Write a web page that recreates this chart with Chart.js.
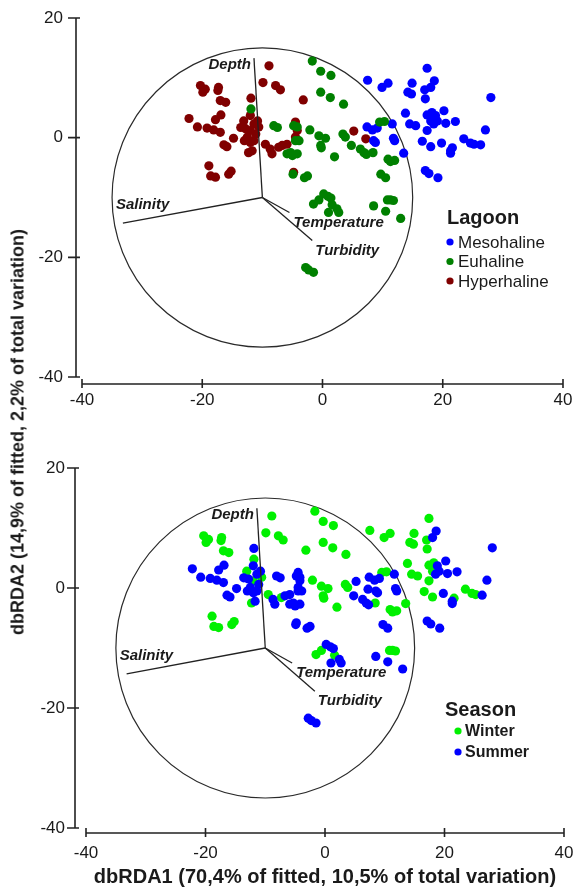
<!DOCTYPE html>
<html>
<head>
<meta charset="utf-8">
<title>dbRDA biplot</title>
<script src="https://cdn.jsdelivr.net/npm/chart.js@4.4.1/dist/chart.umd.min.js"></script>
<style>
  html, body { margin: 0; padding: 0; background: #fff; }
  #wrap { position: relative; width: 574px; height: 892px; overflow: hidden; font-family: "Liberation Sans", Arial, sans-serif; }
  .panel { position: absolute; left: 0; width: 574px; }
  #top { top: 0; height: 440px; }
  #bottom { top: 440px; height: 452px; }
  #ytitle {
    position: absolute; left: 18px; top: 432px;
    transform: translate(-50%, -50%) rotate(-90deg);
    white-space: nowrap; font-weight: bold; font-size: 18px; color: #1a1a1a;
  }
</style>
</head>
<body>
<div id="wrap">
  <div class="panel" id="top"><canvas id="lagoonChart" width="574" height="440"></canvas></div>
  <div class="panel" id="bottom"><canvas id="seasonChart" width="574" height="452"></canvas></div>
  <div id="ytitle">dbRDA2 (14,9% of fitted, 2,2% of total variation)</div>
</div>
<script>
// dbRDA ordination of the samples: coloured by lagoon (top) and by season (bottom)

// sample scores [dbRDA1, dbRDA2], split by lagoon and season
const hyperWinter = [[-8.9,12.0],[-9.9,9.2],[-7.8,8.7],[-7.0,8.0],[-20.3,8.7],[-19.5,8.1],[-19.9,7.6],[-17.3,8.4],
  [-17.4,7.9],[-17.0,6.2],[-16.1,5.9],[-18.9,-4.7],[-18.6,-6.4],[-17.8,-6.6],[-15.6,-6.1],[-15.2,-5.6],[-3.2,6.3],
  [-13.1,2.8],[-12.0,1.2],[-10.6,1.8],[-12.3,-2.5],[-9.5,-1.1],[-7.3,-1.6]];
const hyperSummer = [[-11.9,6.6],[-22.2,3.2],[-20.8,1.8],[-19.2,1.6],[-18.1,1.3],[-17.0,0.9],[-17.8,3.0],[-16.9,3.8],
  [-14.8,-0.1],[-16.4,-1.2],[-15.9,-1.5],[-13.6,1.7],[-12.8,1.5],[-12.0,3.7],[-11.4,2.3],[-12.5,0.1],[-12.0,-0.8],
  [-11.4,-0.5],[-13.0,-0.5],[-11.1,0.6],[-10.8,2.8],[-11.7,-2.2],[-8.7,-1.9],[-8.4,-2.7],[-6.7,-1.3],[-5.9,-1.1],
  [-4.8,-5.8],[-4.5,2.6],[-4.2,1.2],[-4.5,0.1],[5.2,1.1],[7.2,-0.2]];
const euWinter = [[-11.9,4.8],[-1.7,12.8],[-0.3,11.1],[1.4,10.4],[-0.3,7.6],[1.3,6.7],[3.5,5.6],[-2.1,1.3],[-0.6,0.3],
  [0.5,-0.1],[-0.3,-1.3],[-0.2,-1.7],[2.0,-3.2],[3.4,0.6],[3.8,0.1],[8.4,-2.5],[9.5,2.6],[10.3,2.7],[10.9,-3.6],
  [11.3,-4.0],[12.0,-3.8],[-0.6,-10.4],[-1.5,-11.1],[1.6,-11.2],[10.8,-10.4],[11.3,-10.4],[11.8,-10.5]];
const euSummer = [[-8.1,2.0],[-7.5,1.7],[-4.8,2.0],[-4.2,1.8],[-4.5,-0.5],[-3.9,-0.5],[-5.9,-2.7],[-5.0,-3.0],[-4.2,-2.7],
  [-5.3,-2.5],[-4.9,-6.1],[4.8,-1.3],[6.3,-1.9],[6.9,-2.5],[7.3,-2.8],[-2.5,-6.4],[-3.0,-6.7],[9.7,-6.1],[10.5,-6.7],
  [0.2,-9.4],[0.9,-9.8],[1.4,-10.1],[2.4,-11.9],[1.0,-12.5],[2.7,-12.5],[8.5,-11.4],[10.5,-12.3],[13.0,-13.5],
  [-2.8,-21.7],[-2.3,-22.1],[-1.5,-22.5]];
const mesoWinter = [[7.5,9.6],[9.9,8.4],[10.9,9.1],[17.4,11.6],[14.9,9.1],[17.0,8.0],[14.2,7.6],[14.8,7.3],[17.1,6.5],
  [13.8,4.1],[17.4,3.8],[18.2,4.2],[18.0,2.8],[14.5,2.3],[15.5,2.0],[17.4,1.2],[13.5,-2.6],[16.6,-0.6],[18.0,-1.5],
  [21.6,-1.7],[23.5,-0.2],[24.6,-0.9],[25.2,-1.1]];
const mesoSummer = [[18.6,9.5],[18.0,8.4],[20.2,4.5],[18.8,3.7],[19.1,2.8],[18.5,2.3],[20.5,2.4],[22.1,2.7],[7.4,1.8],
  [8.3,1.3],[9.1,1.6],[11.6,2.3],[8.5,-0.5],[8.8,-0.8],[11.8,-0.1],[12.0,-0.5],[19.8,-0.9],[21.3,-2.2],[21.3,-2.6],
  [17.1,-5.5],[17.7,-6.0],[19.2,-6.7],[28.0,6.7],[27.1,1.3],[26.3,-1.2]];

// environmental vectors (origin shared) and the correlation circle radius
const vectorNames = ["Depth", "Salinity", "Temperature", "Turbidity"];
const vectorOrigin = [-10, -10];
const vectorEnds = [[-11.4, 13.3], [-33.2, -14.3], [-5.5, -12.5], [-1.7, -17.2]];
const circleRadius = 25;

const xTicks = [-40, -20, 0, 20, 40];
const yTicks = [-40, -20, 0, 20];
const lagoonNames = ["Mesohaline", "Euhaline", "Hyperhaline"];
const seasonNames = ["Winter", "Summer"];

const FONT = '"Liberation Sans", Arial, sans-serif';
const INK = "#1a1a1a";
const lagoonColors = ["#0000ff", "#008000", "#800000"];
const seasonColors = ["#00f000", "#0000ff"];
// label placement relative to each vector tip, in pixels: [dx, dy, align]
const labelOffsets = [[-3, 7, "right"], [-7, -18, "left"], [4, 10, "left"], [3, 10, "left"]];

const toXY = arr => arr.map(([x, y]) => ({ x, y }));

function pointSet(label, data, color, order) {
  return {
    label, data: toXY(data), order,
    backgroundColor: color, borderColor: color,
    pointRadius: 4.6, pointBorderWidth: 0, pointHoverRadius: 4.6
  };
}

function vectorSets() {
  return vectorEnds.map((end, i) => ({
    label: vectorNames[i],
    data: toXY([vectorOrigin, end]),
    showLine: true, fill: false,
    borderColor: "#222", borderWidth: 1.3,
    pointRadius: 0, pointHoverRadius: 0,
    order: -1
  }));
}

// no extra room for edge tick labels: the plot area is set by layout.padding alone
function fixScale(s, key, size) {
  s[key] = size;
  s.paddingTop = s.paddingBottom = s.paddingLeft = s.paddingRight = 0;
}

// circle, detached axes, vector labels and the inset legend
const biplot = {
  id: "biplot",
  beforeDatasetsDraw(chart) {
    const { ctx, scales: { x, y } } = chart;
    const cx = x.getPixelForValue(vectorOrigin[0]);
    const cy = y.getPixelForValue(vectorOrigin[1]);
    const rx = x.getPixelForValue(vectorOrigin[0] + circleRadius) - cx;
    const ry = cy - y.getPixelForValue(vectorOrigin[1] + circleRadius);
    ctx.save();
    ctx.strokeStyle = "#2a2a2a";
    ctx.lineWidth = 1.2;
    ctx.beginPath();
    ctx.ellipse(cx, cy, rx, ry, 0, 0, Math.PI * 2);
    ctx.stroke();
    ctx.restore();
  },
  afterDraw(chart, args, opts) {
    const { ctx, chartArea: a, scales: { x, y } } = chart;
    ctx.save();

    // axes sit a few pixels off the plot area
    const ax = a.left - opts.yAxisGap;
    const ay = a.bottom + opts.xAxisGap;
    ctx.strokeStyle = "#222";
    ctx.lineWidth = 1.6;
    ctx.beginPath();
    ctx.moveTo(ax, y.getPixelForValue(yTicks[yTicks.length - 1]));
    ctx.lineTo(ax, y.getPixelForValue(yTicks[0]));
    yTicks.forEach(v => { const p = y.getPixelForValue(v); ctx.moveTo(ax - 8, p); ctx.lineTo(ax + 4, p); });
    ctx.moveTo(x.getPixelForValue(xTicks[0]), ay);
    ctx.lineTo(x.getPixelForValue(xTicks[xTicks.length - 1]), ay);
    xTicks.forEach(v => { const p = x.getPixelForValue(v); ctx.moveTo(p, ay - 5); ctx.lineTo(p, ay + 4); });
    ctx.stroke();

    // vector names
    ctx.fillStyle = INK;
    ctx.font = `italic bold 15px ${FONT}`;
    ctx.textBaseline = "middle";
    vectorEnds.forEach((e, i) => {
      const [dx, dy, align] = labelOffsets[i];
      ctx.textAlign = align;
      ctx.fillText(vectorNames[i], x.getPixelForValue(e[0]) + dx, y.getPixelForValue(e[1]) + dy);
    });

    // legend
    const lg = opts.legend;
    ctx.textAlign = "left";
    ctx.font = `bold 20px ${FONT}`;
    ctx.fillText(lg.title, lg.left, lg.titleY);
    ctx.font = `${lg.bold ? "bold " : ""}${lg.size}px ${FONT}`;
    lg.names.forEach((n, i) => {
      const ry = lg.firstY + i * lg.rowGap;
      ctx.fillStyle = lg.colors[i];
      ctx.beginPath();
      ctx.arc(lg.markerX, ry - 1, 3.6, 0, Math.PI * 2);
      ctx.fill();
      ctx.fillStyle = INK;
      ctx.fillText(n, lg.textX, ry);
    });
    ctx.restore();
  }
};

function makeChart(canvas, datasets, cfg) {
  return new Chart(canvas, {
    type: "scatter",
    data: { datasets },
    options: {
      responsive: false,
      animation: false,
      events: [],
      layout: { autoPadding: false, padding: { top: cfg.padTop, right: cfg.padRight, left: 0, bottom: 0 } },
      plugins: { legend: { display: false }, tooltip: { enabled: false }, biplot: cfg.biplot },
      scales: {
        x: {
          type: "linear", min: -40, max: 40,
          grid: { display: false, drawTicks: false }, border: { display: false },
          ticks: { stepSize: 20, padding: cfg.xTickPad, color: INK, font: { family: FONT, size: 17 } },
          title: cfg.xTitle
            ? { display: true, text: cfg.xTitle, color: INK, font: { family: FONT, size: 20, weight: "bold" }, padding: { top: 0, bottom: 3 } }
            : { display: false },
          afterFit: s => fixScale(s, "height", cfg.xHeight)
        },
        y: {
          type: "linear", min: -40, max: 20,
          grid: { display: false, drawTicks: false }, border: { display: false },
          ticks: { stepSize: 20, padding: cfg.yTickPad, color: INK, font: { family: FONT, size: 17 } },
          afterFit: s => fixScale(s, "width", cfg.yWidth)
        }
      }
    },
    plugins: [biplot]
  });
}

makeChart(document.getElementById("lagoonChart"), [
  ...vectorSets(),
  pointSet(lagoonNames[1], euWinter.concat(euSummer), lagoonColors[1], 0),
  pointSet(lagoonNames[0], mesoWinter.concat(mesoSummer), lagoonColors[0], 1),
  pointSet(lagoonNames[2], hyperWinter.concat(hyperSummer), lagoonColors[2], 2)
], {
  padTop: 18, padRight: 11, yWidth: 82, xHeight: 63, xTickPad: 13, yTickPad: 19,
  biplot: {
    yAxisGap: 6, xAxisGap: 7,
    legend: { title: "Lagoon", left: 447, titleY: 218, names: lagoonNames, colors: lagoonColors,
      size: 17, bold: false, markerX: 450, textX: 458, firstY: 243, rowGap: 19.5 }
  }
});

makeChart(document.getElementById("seasonChart"), [
  ...vectorSets(),
  pointSet(seasonNames[1], mesoSummer.concat(euSummer, hyperSummer), seasonColors[1], 0),
  pointSet(seasonNames[0], mesoWinter.concat(euWinter, hyperWinter), seasonColors[0], 1)
], {
  padTop: 28, padRight: 10, yWidth: 86, xHeight: 64, xTickPad: 15, yTickPad: 21,
  xTitle: "dbRDA1 (70,4% of fitted, 10,5% of total variation)",
  biplot: {
    yAxisGap: 11, xAxisGap: 5,
    legend: { title: "Season", left: 445, titleY: 270, names: seasonNames, colors: seasonColors,
      size: 16, bold: true, markerX: 458, textX: 465, firstY: 292, rowGap: 21 }
  }
});
</script>
</body>
</html>
